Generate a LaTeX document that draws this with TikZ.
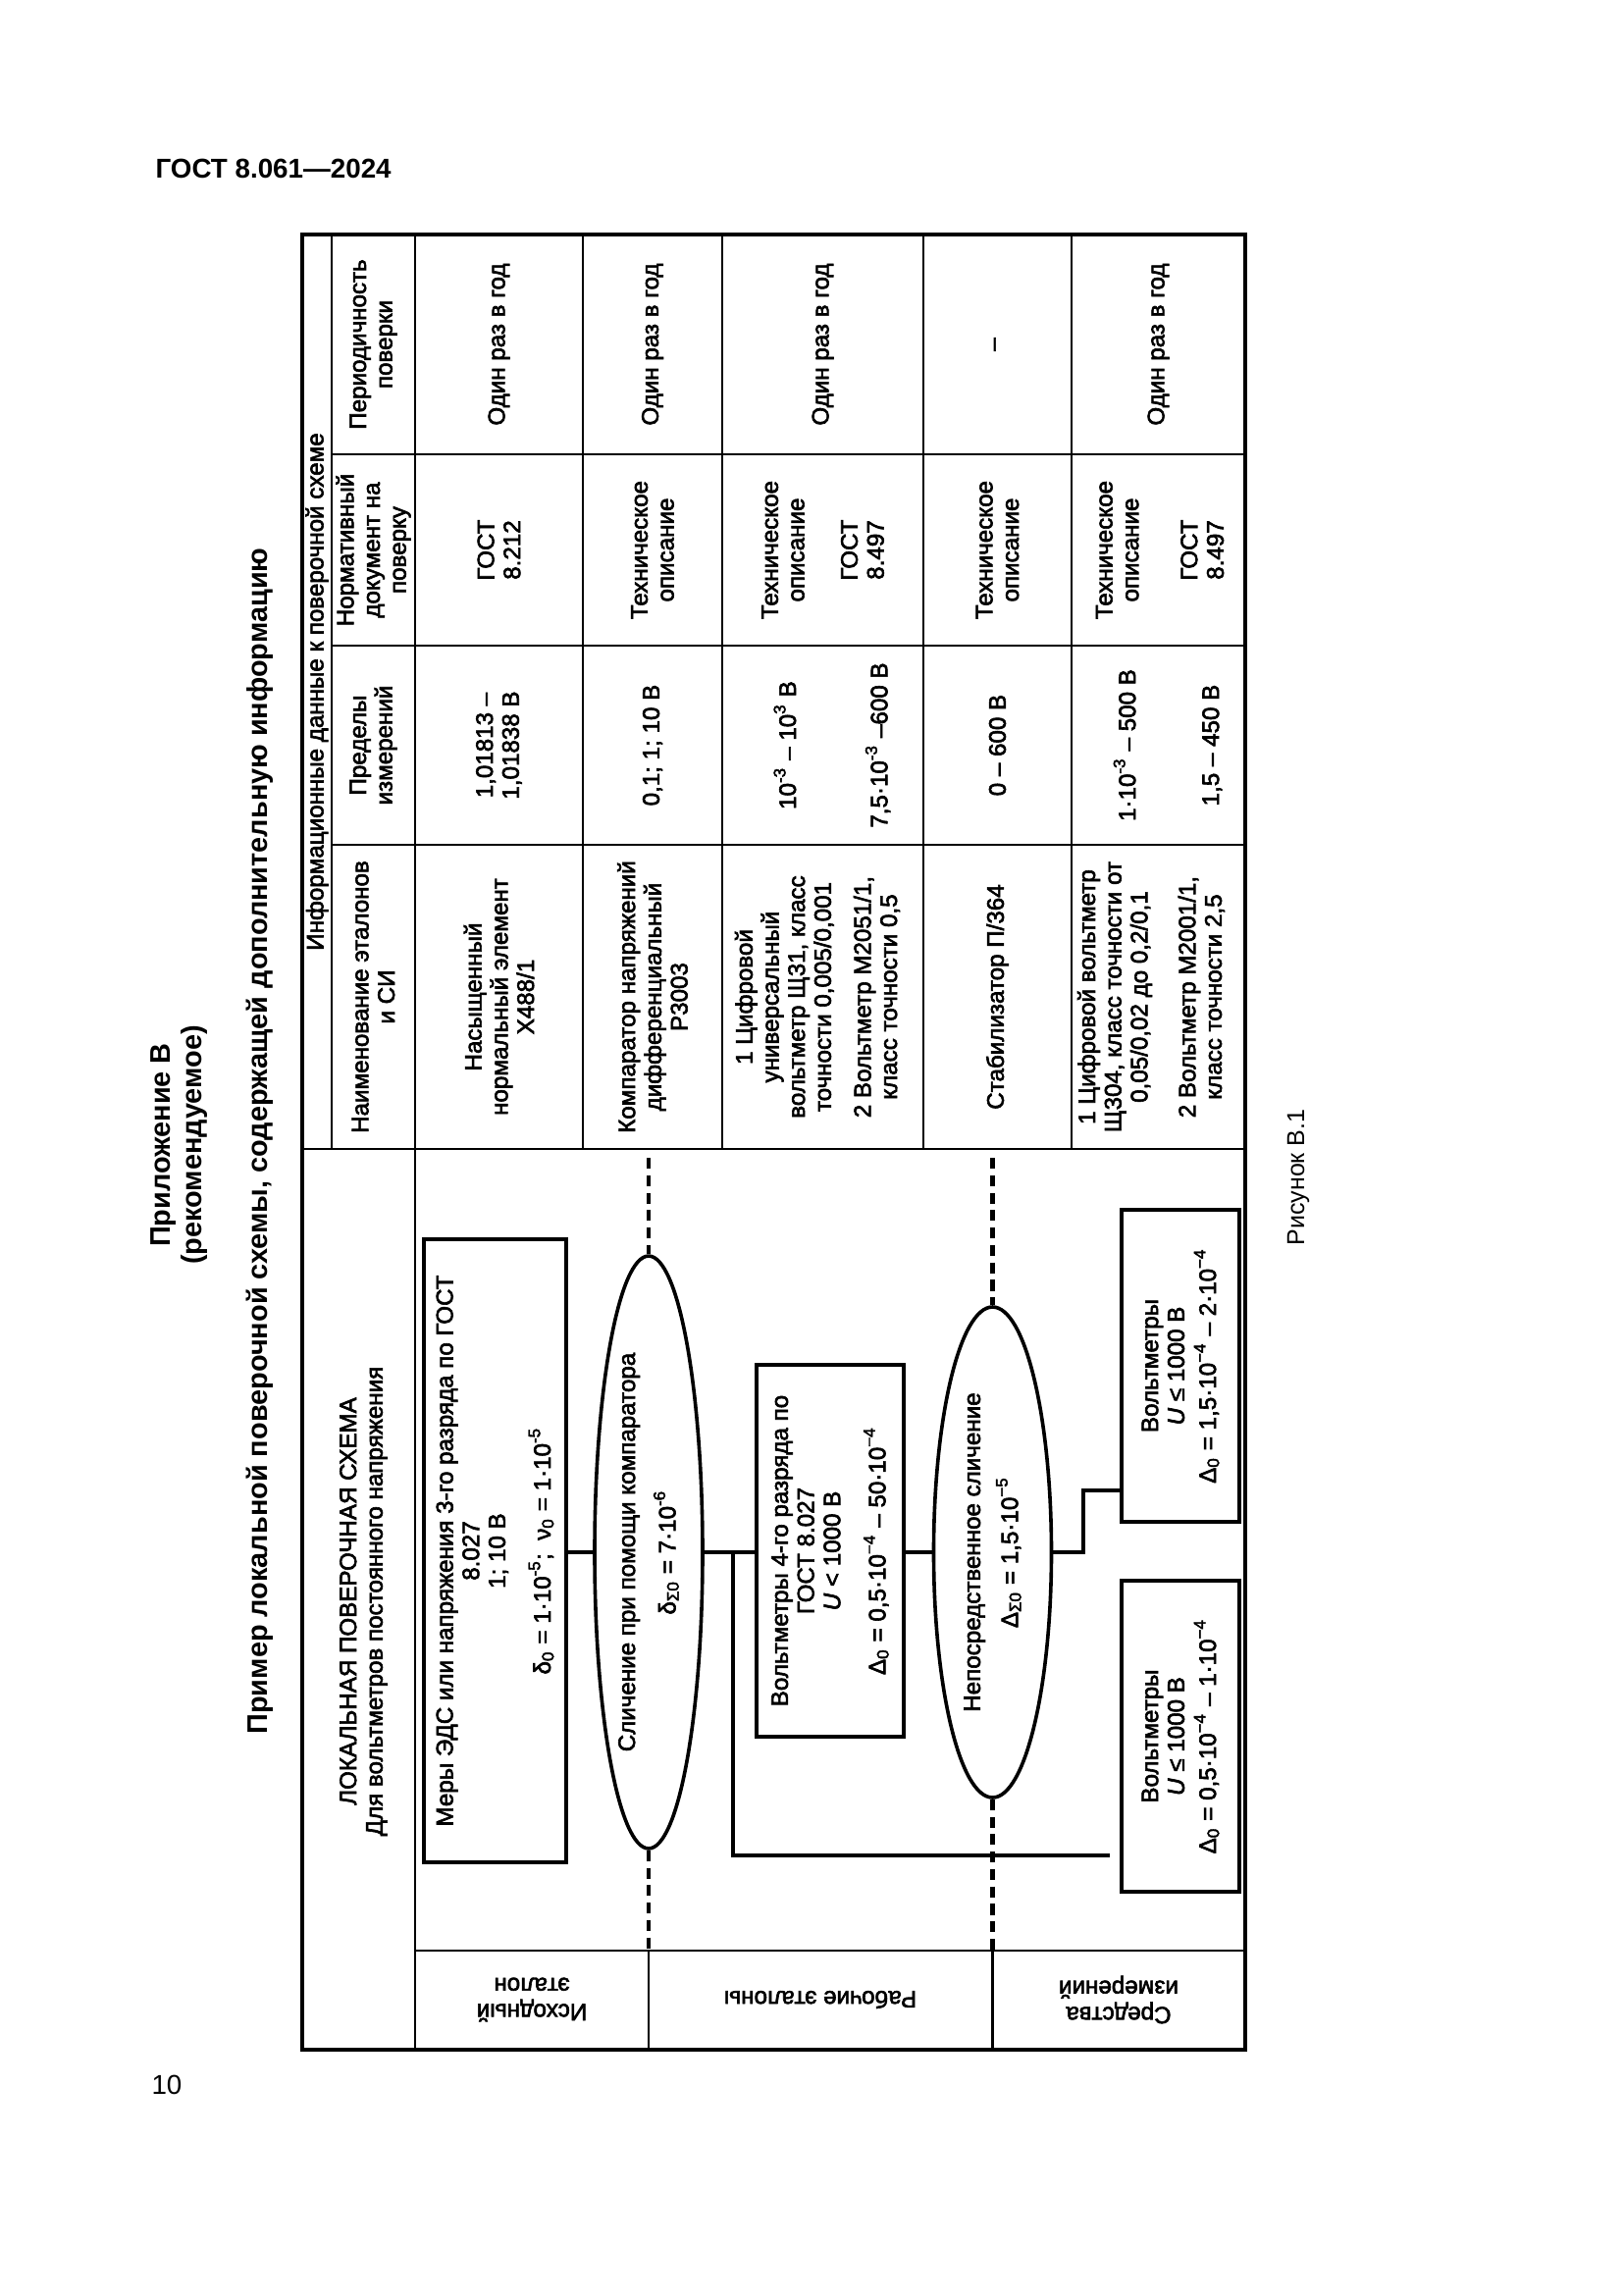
\documentclass[tikz,border=0pt]{standalone}
\usepackage{fontspec}
\setmainfont{Liberation Sans}
\newfontfamily\tabfont[FakeBold=2.5]{Liberation Sans}
\usetikzlibrary{shapes.geometric}
\begin{document}
\begin{tikzpicture}[x=0.36pt,y=-0.36pt,
  tbl/.style={line width=0.8pt},
  outer/.style={line width=1.15pt},
  txt/.style={font=\tabfont\fontsize{8.7}{9.6}\selectfont, align=center, inner sep=0pt},
  rtxt/.style={txt, rotate=90},
  box/.style={draw, line width=1.5pt, inner sep=0pt},
  oval/.style={draw, ellipse, line width=1.3pt, inner sep=0pt},
  link/.style={line width=1.1pt},
  dashlink/.style={line width=1.5pt, dash pattern=on 4pt off 2.4pt},
  ttl/.style={font=\bfseries\fontsize{10.4}{12.5}\selectfont, rotate=90, inner sep=0pt}
]
\fill[white] (0,0) rectangle (1654,2339);
\useasboundingbox (0,0) rectangle (1654,2339);

% page texts
\node[font=\bfseries\fontsize{10}{12}\selectfont, anchor=west, inner sep=0pt] (hdr) at (158,172) {ГОСТ 8.061—2024};
\node[ttl] (app) at (167,1167) {Приложение В};
\node[ttl] (rec) at (198,1167) {(рекомендуемое)};
\node[ttl] (title) at (265,1163) {Пример локальной поверочной схемы, содержащей дополнительную информацию};
\node[font=\fontsize{10}{12}\selectfont, inner sep=0pt] (pn) at (170,2125) {10};
\node[font=\fontsize{9}{11}\selectfont, rotate=90, inner sep=0pt] (fig) at (1323,1200) {Рисунок В.1};

% table grid
\draw[outer] (308,239) rectangle (1269,2089);
\draw[tbl] (338,239) -- (338,1171);
\draw[tbl] (423,239) -- (423,2089);
\foreach \x in {594,736,941,1092} \draw[tbl] (\x,239) -- (\x,1171);
\foreach \y in {463,658,861} \draw[tbl] (338,\y) -- (1269,\y);
\draw[tbl] (308,1171) -- (1269,1171);
\draw[tbl] (423,1988) -- (1269,1988);
\draw[tbl] (661,1988) -- (661,2089);
\draw[tbl] (1011.5,1988) -- (1011.5,2089);

% info header
\node[rtxt] (info) at (323,705) {Информационные данные к поверочной схеме};
\node[rtxt] (hper) at (380.5,351) {Периодичность\\поверки};
\node[rtxt] (hnorm) at (380.5,560.5) {Нормативный\\документ на\\поверку};
\node[rtxt] (hlim) at (380.5,759.5) {Пределы\\измерений};
\node[rtxt] (hname) at (380.5,1016) {Наименование эталонов\\и СИ};

% row 1
\node[rtxt] (p1) at (508.5,351) {Один раз в год};
\node[rtxt] (n1) at (508.5,560.5) {ГОСТ\\8.212};
\node[rtxt] (l1) at (508.5,759.5) {1,01813 –\\1,01838 В};
\node[rtxt] (m1) at (508.5,1016) {Насыщенный\\нормальный элемент\\Х488/1};
% row 2
\node[rtxt] (p2) at (665,351) {Один раз в год};
\node[rtxt] (n2) at (665,560.5) {Техническое\\описание};
\node[rtxt] (l2) at (665,759.5) {0,1; 1; 10 В};
\node[rtxt] (m2) at (665,1016) {Компаратор напряжений\\дифференциальный\\Р3003};
% row 3
\node[rtxt] (p3) at (838.5,351) {Один раз в год};
\node[rtxt] (n3) at (838.5,560.5) {Техническое\\описание\\[10pt]ГОСТ\\8.497};
\node[rtxt] (l3) at (848,759.5) {10\textsuperscript{-3} – 10\textsuperscript{3} В\\[24pt]7,5·10\textsuperscript{-3} –600 В};
\node[rtxt] (m3) at (833,1016) {1 Цифровой\\универсальный\\вольтметр Щ31, класс\\точности 0,005/0,001\\[5pt]2 Вольтметр М2051/1,\\класс точности 0,5};
% row 4
\node[rtxt] (p4) at (1016.5,351) {–};
\node[rtxt] (n4) at (1016.5,560.5) {Техническое\\описание};
\node[rtxt] (l4) at (1016.5,759.5) {0 – 600 В};
\node[rtxt] (m4) at (1016.5,1016) {Стабилизатор П/364};
% row 5
\node[rtxt] (p5) at (1180.5,351) {Один раз в год};
\node[rtxt] (n5) at (1182,560.5) {Техническое\\описание\\[12pt]ГОСТ\\8.497};
\node[rtxt] (l5) at (1190,759.5) {1·10\textsuperscript{-3} – 500 В\\[21pt]1,5 – 450 В};
\node[rtxt] (m5) at (1173,1016) {1 Цифровой вольтметр\\Щ304, класс точности от\\0,05/0,02 до 0,2/0,1\\[8pt]2 Вольтметр М2001/1,\\класс точности 2,5};

% scheme title
\node[rtxt] (sch) at (370.5,1632) {ЛОКАЛЬНАЯ ПОВЕРОЧНАЯ СХЕМА\\Для вольтметров постоянного напряжения};

% scheme shapes
\node[box, minimum width=52.2pt, minimum height=228.6pt] (mery) at (504.5,1580.5) {};
\node[rtxt] (meryt) at (mery.center) {Меры ЭДС или напряжения 3-го разряда по ГОСТ\\8.027\\1; 10 В\\[7pt]δ\textsubscript{0} = 1·10\textsuperscript{-5};\ \ ν\textsubscript{0} = 1·10\textsuperscript{-5}};

\node[oval, minimum width=39.6pt, minimum height=217.4pt] (e1) at (661,1582) {};
\node[rtxt] (e1t) at (e1.center) {Сличение при помощи компаратора\\[4pt]δ\textsubscript{Σ0} = 7·10\textsuperscript{-6}};

\node[box, minimum width=54pt, minimum height=136.4pt] (v4) at (846,1580.5) {};
\node[rtxt] (v4t) at (v4.center) {Вольтметры 4-го разряда по\\ГОСТ 8.027\\\textit{U} < 1000 В\\[7pt]Δ\textsubscript{0} = 0,5·10\textsuperscript{−4} – 50·10\textsuperscript{−4}};

\node[oval, minimum width=43.2pt, minimum height=180pt] (e2) at (1011.5,1582) {};
\node[rtxt] (e2t) at (e2.center) {Непосредственное сличение\\[3pt]Δ\textsubscript{Σ0} = 1,5·10\textsuperscript{−5}};

\node[box, minimum width=43.2pt, minimum height=114.5pt] (si1) at (1203,1392) {};
\node[rtxt] (si1t) at (si1.center) {Вольтметры\\\textit{U} ≤ 1000 В\\[2pt]Δ\textsubscript{0} = 1,5·10\textsuperscript{−4} – 2·10\textsuperscript{−4}};

\node[box, minimum width=43.2pt, minimum height=114.1pt] (si2) at (1203,1769.5) {};
\node[rtxt] (si2t) at (si2.center) {Вольтметры\\\textit{U} ≤ 1000 В\\[2pt]Δ\textsubscript{0} = 0,5·10\textsuperscript{−4} – 1·10\textsuperscript{−4}};

% connectors
\draw[link] (mery.east |- e1.west) -- (e1.west);
\draw[link] (e1.east) -- (e1.east -| v4.west);
\coordinate (j1) at (747,1582);
\coordinate (j2) at (747,1891);
\coordinate (j3) at (1131,1891);
\draw[link] (j1) -- (j2) -- (j3);
\draw[link] (v4.east |- e2.west) -- (e2.west);
\coordinate (k1) at (1104,1582);
\coordinate (k2) at (1104,1519);
\draw[link] (e2.east) -- (k1) -- (k2) -- (k2 -| si1.west);

% dashed level separators
\coordinate (d1a) at (661,1180);
\coordinate (d1b) at (661,1988);
\coordinate (d2a) at (1011.5,1180);
\coordinate (d2b) at (1011.5,1988);
\draw[dashlink] (d1a) -- (e1.north);
\draw[dashlink] (e1.south) -- (d1b);
\draw[dashlink] (d2a) -- (e2.north);
\draw[dashlink] (e2.south) -- (d2b);

% level labels
\node[txt, rotate=180] (lab1) at (542,2038) {Исходный\\эталон};
\node[txt, rotate=180] (lab2) at (836,2038) {Рабочие эталоны};
\node[txt, rotate=180] (lab3) at (1140,2038) {Средства\\измерений};
\end{tikzpicture}
\end{document}
